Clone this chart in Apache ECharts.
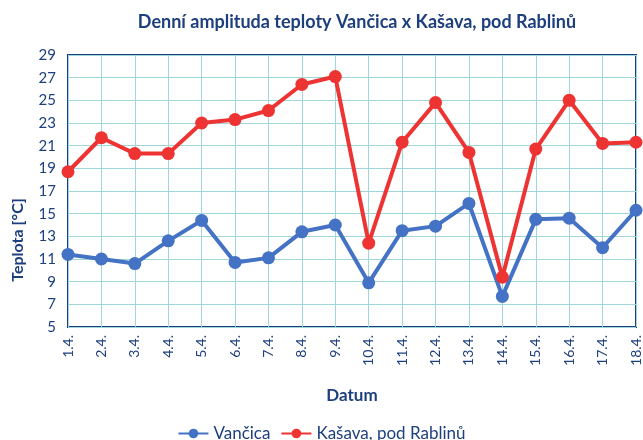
<!DOCTYPE html>
<html>
<head>
<meta charset="utf-8">
<script src="https://cdn.jsdelivr.net/npm/echarts@6/dist/echarts.min.js"></script>
<style>
  html, body { margin: 0; padding: 0; background: #fff; }
  #chart { width: 643px; height: 440px; }
</style>
</head>
<body>
<div id="chart"></div>
<script>
// data
const days = ['1.4.', '2.4.', '3.4.', '4.4.', '5.4.', '6.4.', '7.4.', '8.4.', '9.4.',
  '10.4.', '11.4.', '12.4.', '13.4.', '14.4.', '15.4.', '16.4.', '17.4.', '18.4.']
const vancica = [11.4, 11.0, 10.6, 12.6, 14.4, 10.7, 11.1, 13.4, 14.0,
  8.9, 13.5, 13.9, 15.9, 7.7, 14.5, 14.6, 12.0, 15.3]
const kasava = [18.7, 21.7, 20.3, 20.3, 23.0, 23.3, 24.1, 26.4, 27.1,
  12.4, 21.3, 24.8, 20.4, 9.4, 20.7, 25.0, 21.2, 21.3]
const yMin = 5
const yMax = 29
const yStep = 2

const navy = '#1d3f7e'
const gridColor = '#9fd6da'
const font = 'Lato, "Noto Sans", sans-serif'

const chart = echarts.init(document.getElementById('chart'))

const lineSeries = (name, data, color) => ({
  name: name,
  type: 'line',
  data: data,
  symbol: 'circle',
  symbolSize: 13,
  lineStyle: { width: 4, color: color },
  itemStyle: { color: color },
})

chart.setOption({
  animation: false,
  title: {
    text: 'Denní amplituda teploty Vančica x Kašava, pod Rablinů',
    left: 352,
    textAlign: 'center',
    top: 8,
    textStyle: { color: navy, fontSize: 18, fontWeight: 'bold', fontFamily: font },
  },
  grid: {
    left: 68,
    right: 7,
    top: 55,
    bottom: 113,
    show: true,
    borderColor: navy,
    borderWidth: 2,
  },
  xAxis: {
    type: 'category',
    data: days,
    boundaryGap: false,
    name: 'Datum',
    nameLocation: 'middle',
    nameGap: 60,
    nameTextStyle: { color: navy, fontSize: 17, fontWeight: 'bold', fontFamily: font },
    axisLine: { show: false },
    axisTick: { show: false },
    axisLabel: { rotate: 90, color: navy, fontSize: 14, fontFamily: font, margin: 8 },
    splitLine: { show: true, lineStyle: { color: gridColor, width: 1 } },
  },
  yAxis: {
    type: 'value',
    min: yMin,
    max: yMax,
    interval: yStep,
    axisLine: { show: false },
    axisTick: { show: false },
    axisLabel: { color: navy, fontSize: 15, fontFamily: font, margin: 12 },
    splitLine: { show: true, lineStyle: { color: gridColor, width: 1 } },
  },
  legend: {
    top: 420,
    left: 'center',
    itemWidth: 30,
    itemHeight: 12,
    itemGap: 10,
    textStyle: { color: navy, fontSize: 17, fontFamily: font },
    data: ['Vančica', 'Kašava, pod Rablinů'],
  },
  graphic: [
    {
      type: 'text',
      x: 18,
      y: 240,
      rotation: Math.PI / 2,
      style: {
        text: 'Teplota [°C]',
        fill: navy,
        font: 'bold 16px ' + font,
        align: 'center',
        verticalAlign: 'middle',
      },
    },
  ],
  series: [
    lineSeries('Vančica', vancica, '#4472c4'),
    lineSeries('Kašava, pod Rablinů', kasava, '#ee3333'),
  ],
})
</script>
</body>
</html>
